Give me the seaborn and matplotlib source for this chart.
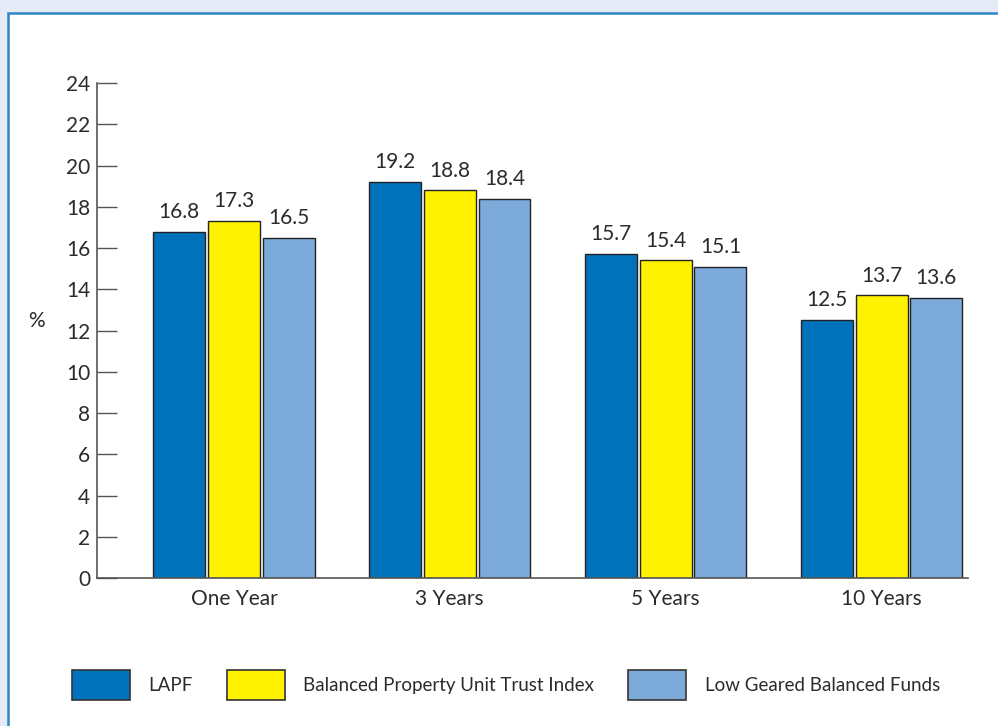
import numpy as np
import pandas as pd
import seaborn as sns
import matplotlib.pyplot as plt
from matplotlib.patches import Patch, Rectangle

periods = ["One Year", "3 Years", "5 Years", "10 Years"]
series = ["LAPF", "Balanced Property Unit Trust Index", "Low Geared Balanced Funds"]
lapf = [16.8, 19.2, 15.7, 12.5]
bput = [17.3, 18.8, 15.4, 13.7]
lgbf = [16.5, 18.4, 15.1, 13.6]
colors = ["#0072BC", "#FFF200", "#7BAADB"]

df = pd.DataFrame({
    "period": periods * 3,
    "series": [s for s in series for _ in periods],
    "value": lapf + bput + lgbf,
})

sns.set_theme(style="white")
plt.rcParams["font.family"] = ["Lato", "DejaVu Sans"]
text_col = "#2B2B2B"

fig = plt.figure(figsize=(9.98, 7.26), dpi=100, facecolor="#E4EAF6")

# white panel with blue top/left border
fig.patches.append(Rectangle((8 / 998, -0.1), 1.2, 1 - 13 / 726 + 0.1,
                             transform=fig.transFigure, facecolor="white",
                             edgecolor="#2F86C8", linewidth=1.8, zorder=-5))

ax = fig.add_axes([97 / 998, 1 - 578 / 726, (968 - 97) / 998, (578 - 83) / 726])
ax.set_zorder(2)
sns.barplot(data=df, x="period", y="value", hue="series", palette=colors,
            saturation=1, width=0.76, gap=0.05, edgecolor="#222222", linewidth=1.0,
            legend=False, ax=ax)

for cont in ax.containers:
    ax.bar_label(cont, fmt="%.1f", padding=7, fontsize=15, color=text_col)

ax.set_ylim(0, 24)
ax.set_yticks(range(0, 25, 2))
ax.set_xlim(-0.634, 3.40)
ax.set_xlabel("")
ax.set_ylabel("%", rotation=0, fontsize=15, color=text_col)
ax.yaxis.set_label_coords(-0.069, 0.5)

for s in ["top", "right"]:
    ax.spines[s].set_visible(False)
for s in ["left", "bottom"]:
    ax.spines[s].set_color("#555555")
    ax.spines[s].set_linewidth(1.2)

ax.tick_params(axis="y", direction="in", length=14.5, width=1.0, color="#555555",
               pad=5, labelsize=15, labelcolor=text_col, left=True)
ax.tick_params(axis="x", length=0, pad=8, labelsize=15, labelcolor=text_col)
ax.set_facecolor("none")

handles = [Patch(facecolor=c, edgecolor="#333333", linewidth=1.2) for c in colors]
leg = fig.legend(handles, series, loc="center", bbox_to_anchor=(0.507, 1 - 685 / 726),
                 ncol=3, frameon=False, fontsize=13.5, handlelength=3.1, handleheight=2.1,
                 handletextpad=1.0, columnspacing=1.8)
for t in leg.get_texts():
    t.set_color(text_col)

fig.savefig("out.png", dpi=100, facecolor=fig.get_facecolor())
